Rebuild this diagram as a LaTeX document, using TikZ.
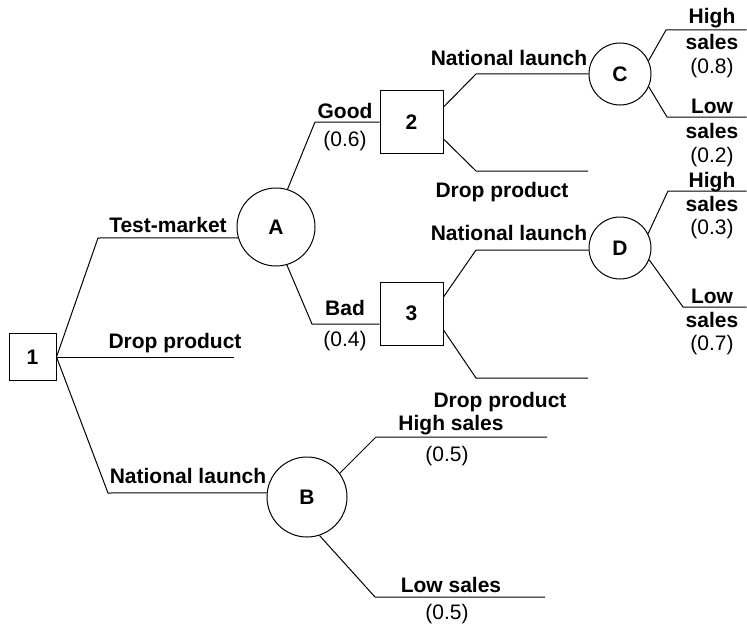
\documentclass[tikz,border=0pt]{standalone}
\usepackage{fontspec}
\setmainfont{Liberation Sans}
\usetikzlibrary{calc}
\begin{document}
\begin{tikzpicture}[x=1pt,y=-1pt,line width=1pt,
  every node/.style={font=\fontsize{21}{25}\selectfont},
  lbl/.style={anchor=base,inner sep=0pt,font=\fontsize{21}{25}\selectfont\bfseries},
  prob/.style={anchor=base,inner sep=0pt},
  dec/.style={draw,rectangle,inner sep=0pt,font=\fontsize{21}{25}\selectfont\bfseries},
  chance/.style={draw,circle,inner sep=0pt,font=\fontsize{21}{25}\selectfont\bfseries}]
\useasboundingbox (0,0) rectangle (747,626);
% nodes
\node[dec,minimum size=47pt] (n1) at (32.5,357) {1};
\node[chance,minimum size=78pt] (A) at (276,227) {A};
\node[chance,minimum size=80pt] (B) at (307,497) {B};
\node[dec,minimum size=63pt] (n2) at (411.5,122) {2};
\node[dec,minimum size=63pt] (n3) at (411.5,313.5) {3};
\node[chance,minimum size=62pt] (C) at (620,74) {C};
\node[chance,minimum size=62pt] (D) at (620,248) {D};
% bend and end coordinates
\coordinate (k1) at (98,238);
\coordinate (e1) at (234,357);
\coordinate (k2) at (108,493);
\coordinate (k3) at (315,122);
\coordinate (k4) at (312,324);
\coordinate (k5) at (476,74);
\coordinate (k6) at (476,171);
\coordinate (e6) at (588,171);
\coordinate (k7) at (476,250);
\coordinate (k8) at (476,378);
\coordinate (e8) at (588,378);
\coordinate (k9) at (666,30);
\coordinate (e9) at (746.5,30);
\coordinate (k10) at (667,117);
\coordinate (e10) at (746.5,117);
\coordinate (k11) at (668,191);
\coordinate (e11) at (746.5,191);
\coordinate (k12) at (683,307);
\coordinate (e12) at (746.5,307);
\coordinate (k13) at (376,437);
\coordinate (e13) at (547,437);
\coordinate (k14) at (375,597);
\coordinate (e14) at (545,597);
% connectors
\draw (n1.east) -- (k1) -- (A.196);
\draw (n1.east) -- (e1);
\draw (n1.east) -- (k2) -- (B.174);
\draw (A.73) -- (k3) -- (n2.west);
\draw (A.-74) -- (k4) -- ([yshift=-10.5pt]n3.west);
\draw ([yshift=15pt]n2.east) -- (k5) -- (C.west);
\draw ([yshift=-17pt]n2.east) -- (k6) -- (e6);
\draw ([yshift=16.5pt]n3.east) -- (k7) -- (D.184);
\draw ([yshift=-16.5pt]n3.east) -- (k8) -- (e8);
\draw (C.25) -- (k9) -- (e9);
\draw (C.-24) -- (k10) -- (e10);
\draw (D.27) -- (k11) -- (e11);
\draw (D.-22) -- (k12) -- (e12);
\draw (B.36) -- (k13) -- (e13);
\draw (B.-72) -- (k14) -- (e14);
% labels
\node[lbl] (t1) at (168,232) {Test-market};
\node[lbl] (t2) at (175,348) {Drop product};
\node[lbl] (t3) at (188,483) {National launch};
\node[lbl] (t4) at (345,118) {Good};
\node[prob] (p4) at (345,146) {(0.6)};
\node[lbl] (t5) at (345,315) {Bad};
\node[prob] (p5) at (345,346) {(0.4)};
\node[lbl] (t6) at (509,66) {National launch};
\node[lbl] (t7) at (502,197) {Drop product};
\node[lbl] (t8) at (509,240) {National launch};
\node[lbl] (t9) at (500,407) {Drop product};
\node[lbl] (t10) at (451,430) {High sales};
\node[prob] (p10) at (447,461) {(0.5)};
\node[lbl] (t11) at (451,592) {Low sales};
\node[prob] (p11) at (447,619) {(0.5)};
% C outcomes
\node[lbl] (t12a) at (712,24) {High};
\node[lbl] (t12b) at (712,49) {sales};
\node[prob] (p12) at (712,74) {(0.8)};
\node[lbl] (t13a) at (712,113) {Low};
\node[lbl] (t13b) at (712,138) {sales};
\node[prob] (p13) at (712,162) {(0.2)};
% D outcomes
\node[lbl] (t14a) at (712,187) {High};
\node[lbl] (t14b) at (712,211) {sales};
\node[prob] (p14) at (712,234) {(0.3)};
\node[lbl] (t15a) at (712,303) {Low};
\node[lbl] (t15b) at (712,327) {sales};
\node[prob] (p15) at (712,350) {(0.7)};
\end{tikzpicture}
\end{document}
